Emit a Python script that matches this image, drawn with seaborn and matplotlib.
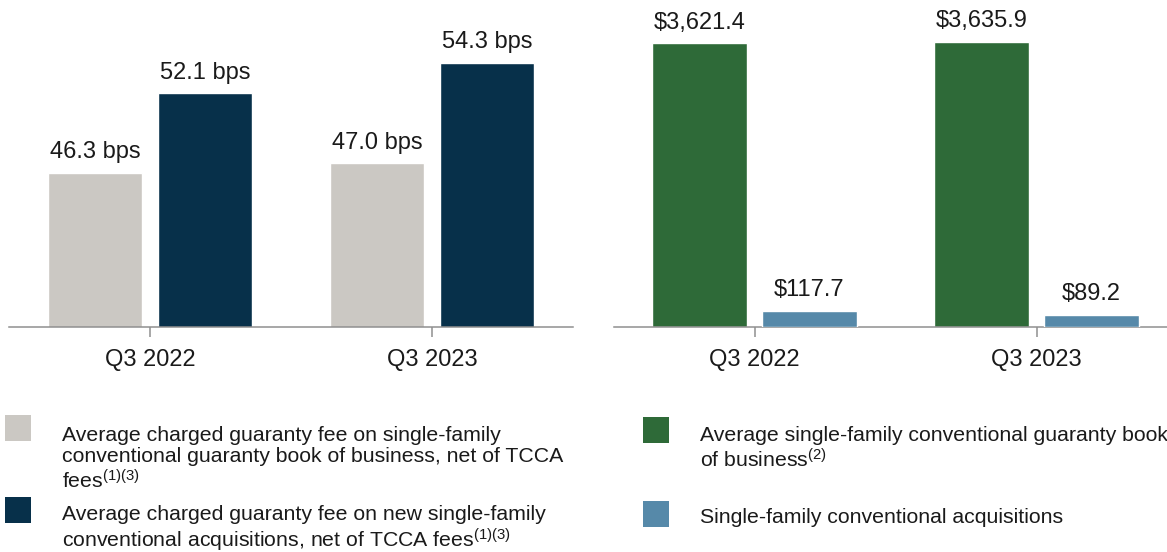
import matplotlib
matplotlib.use("Agg")
import matplotlib.pyplot as plt
from matplotlib.patches import Rectangle
import pandas as pd
import seaborn as sns

# ---------------- data ----------------
quarters = ["Q3 2022", "Q3 2023"]
fee_book = [46.3, 47.0]        # bps, guaranty book of business
fee_new = [52.1, 54.3]         # bps, new acquisitions
book_upb = [3621.4, 3635.9]    # $B, average guaranty book
acquisitions = [117.7, 89.2]   # $B, acquisitions

fee_labels = [
    "Average charged guaranty fee on single-family\n"
    "conventional guaranty book of business, net of TCCA\n"
    "fees$^{(1)(3)}$",
    "Average charged guaranty fee on new single-family\n"
    "conventional acquisitions, net of TCCA fees$^{(1)(3)}$",
]
upb_labels = [
    "Average single-family conventional guaranty book\nof business$^{(2)}$",
    "Single-family conventional acquisitions",
]

fee_colors = ["#cbc8c3", "#07304a"]
upb_colors = ["#2e6a38", "#5689a9"]
axis_grey = "#8f8f8f"
text_col = "#1a1a1a"

sns.set_theme(style="white")
plt.rcParams["font.family"] = ["Liberation Sans", "DejaVu Sans"]
plt.rcParams["mathtext.default"] = "regular"

fees = pd.DataFrame({
    "quarter": quarters * 2,
    "series": [fee_labels[0]] * 2 + [fee_labels[1]] * 2,
    "value": fee_book + fee_new,
})
upb = pd.DataFrame({
    "quarter": quarters * 2,
    "series": [upb_labels[0]] * 2 + [upb_labels[1]] * 2,
    "value": book_upb + acquisitions,
})

W, H = 1167, 552
fig = plt.figure(figsize=(W / 100, H / 100), dpi=100)

ax_l = fig.add_axes([9 / W, 1 - 327 / H, 564 / W, 327 / H])
ax_r = fig.add_axes([613.5 / W, 1 - 327 / H, 564 / W, 327 / H])
ax_t = ax_r.twinx()

bar_kw = dict(x="quarter", y="value", hue="series", order=quarters, width=0.78,
              gap=0.145, errorbar=None, legend=False, saturation=1)

sns.barplot(data=fees, ax=ax_l, hue_order=fee_labels,
            palette=dict(zip(fee_labels, fee_colors)), **bar_kw)
# acquisitions sit on their own scale (secondary axis): draw both series on
# both axes so the dodge matches, then drop the series that doesn't belong
for ax, keep in ((ax_r, 0), (ax_t, 1)):
    sns.barplot(data=upb, ax=ax, hue_order=upb_labels,
                palette=dict(zip(upb_labels, upb_colors)), **bar_kw)
    for i, c in enumerate(list(ax.containers)):
        if i != keep:
            for p in c.patches:
                p.remove()
        else:
            ax.bar_label(c, fmt=lambda v: f"\\${v:,.1f}", padding=7, fontsize=17,
                         color=text_col)

for c in ax_l.containers:
    ax_l.bar_label(c, fmt=lambda v: f"{v:.1f} bps", padding=7, fontsize=17, color=text_col)

ax_l.set_ylim(35.1, 58.88)
ax_r.set_ylim(0, 4174)
ax_t.set_ylim(0, 2405)

for ax in (ax_l, ax_r, ax_t):
    ax.set_xlim(-0.5, 1.5)
    ax.set_yticks([])
    ax.set_xlabel("")
    ax.set_ylabel("")
    for s in ["top", "right", "left"]:
        ax.spines[s].set_visible(False)
ax_t.spines["bottom"].set_visible(False)
for ax in (ax_l, ax_r):
    ax.spines["bottom"].set_color(axis_grey)
    ax.spines["bottom"].set_linewidth(1.1)
    ax.tick_params(axis="x", length=7.5, width=1.1, color=axis_grey, pad=8,
                   labelsize=17, labelcolor=text_col, bottom=True)

# legends drawn as swatch + text below each panel
legends = [
    (fee_labels, fee_colors, 5, 62, [415, 497], [441, 520]),
    (upb_labels, upb_colors, 643, 700, [417, 501], [441.5, 523]),
]
cap = 0.716 * 15.3 * 100 / 72   # ascent of first line in px
for labels, colors, sq_x, txt_x, tops, bases in legends:
    for lab, col, top, base in zip(labels, colors, tops, bases):
        fig.add_artist(Rectangle((sq_x / W, 1 - (top + 26) / H), 26 / W, 26 / H,
                                 transform=fig.transFigure, color=col, lw=0))
        fig.text(txt_x / W, 1 - (base - cap) / H, lab, fontsize=15.3, va="top",
                 linespacing=1.15, color=text_col)

fig.savefig("out.png", dpi=100)
